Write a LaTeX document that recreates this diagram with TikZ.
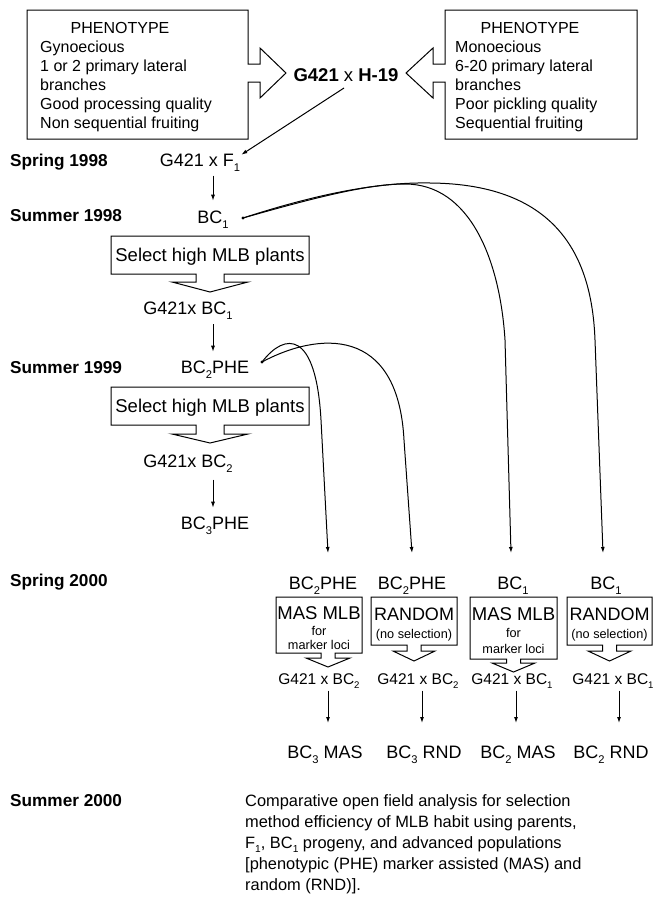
\documentclass[tikz,border=0pt]{standalone}
\usepackage{fontspec}
\setmainfont{Liberation Sans}
\usepackage{graphicx}
\usetikzlibrary{arrows.meta}
\newcommand{\sbs}[1]{\raisebox{-0.28em}{\scalebox{0.62}{#1}}}
\newcommand{\fsz}[1]{\fontsize{#1}{#1}\selectfont}
\begin{document}
\begin{tikzpicture}[x=1pt,y=-1pt,
  txt/.style={inner sep=0pt, anchor=base},
  lbl/.style={inner sep=0pt, anchor=base west, font=\fsz{17.2}\bfseries},
  ptxt/.style={inner sep=0pt, anchor=base west, font=\fsz{16}},
  para/.style={inner sep=0pt, anchor=base west, font=\fsz{16.4}},
  main/.style={inner sep=0pt, anchor=base, font=\fsz{18}},
  big/.style={inner sep=0pt, anchor=base, font=\fsz{18.5}},
  small/.style={inner sep=0pt, anchor=base, font=\fsz{12.7}},
  gx/.style={inner sep=0pt, anchor=base, font=\fsz{15.5}},
  outl/.style={draw=black, line width=1pt, line join=miter},
  arr/.style={line width=1pt, -{Latex[length=6pt,width=4pt]}},
  dotst/.style={fill=black}
]
\useasboundingbox (0,0) rectangle (656,897);

% ---------- phenotype boxes ----------
\draw[outl] (27,10) -- (248,10) -- (248,64) -- (260,64) -- (260,48) -- (286,73)
  -- (260,98) -- (260,82) -- (248,82) -- (248,139) -- (27,139) -- cycle;
\node[ptxt,anchor=base] (phL) at (120,33.8) {PHENOTYPE};
\node[ptxt] (pl1) at (40,52.8) {Gynoecious};
\node[ptxt] (pl2) at (40,71.8) {1 or 2 primary lateral};
\node[ptxt] (pl3) at (40,90.8) {branches};
\node[ptxt] (pl4) at (40,109.8) {Good processing quality};
\node[ptxt] (pl5) at (40,128.8) {Non sequential fruiting};

\draw[outl] (637,10) -- (445,10) -- (445,64) -- (433,64) -- (433,48) -- (406,73)
  -- (433,98) -- (433,82) -- (445,82) -- (445,139) -- (637,139) -- cycle;
\node[ptxt,anchor=base] (phR) at (530,33.8) {PHENOTYPE};
\node[ptxt] (pr1) at (455,52.8) {Monoecious};
\node[ptxt] (pr2) at (455,71.8) {6-20 primary lateral};
\node[ptxt] (pr3) at (455,90.8) {branches};
\node[ptxt] (pr4) at (455,109.8) {Poor pickling quality};
\node[ptxt] (pr5) at (455,128.8) {Sequential fruiting};

\node[txt, font=\fsz{18.5}] (cross) at (346,81.7) {\textbf{G421} x \textbf{H-19}};
\coordinate (xh) at (344,88);

% ---------- season labels ----------
\node[lbl] (s98) at (10,166.5) {Spring 1998};
\node[lbl] (su98) at (10,221.5) {Summer 1998};
\node[lbl] (su99) at (10,373.5) {Summer 1999};
\node[lbl] (sp00) at (10,586) {Spring 2000};
\node[lbl] (su00) at (10,806) {Summer 2000};

% ---------- central column ----------
\node[main] (gf1) at (200,166.5) {G421 x F\sbs{1}};
\node[main] (bcone) at (213,223.5) {BC\sbs{1}};
\draw[arr] (xh) -- ([shift={(1,1)}]gf1.north east);
\draw[arr, shorten <=4pt, shorten >=10pt] (gf1.south -| bcone) -- (bcone.north);

\draw[outl] (111,236) -- (309,236) -- (309,274) -- (224,274) -- (224,282) -- (248,282)
  -- (210,292) -- (172,282) -- (196,282) -- (196,274) -- (111,274) -- cycle;
\node[big] (sel1) at (210,261.5) {Select high MLB plants};
\node[main] (gbc1) at (188,314) {G421x BC\sbs{1}};

\node[main] (bctwophe) at (215,373.5) {BC\sbs{2}PHE};
\draw[arr, shorten <=5pt, shorten >=9pt] (gbc1.south -| bcone) -- (bctwophe.north -| bcone);

\draw[outl] (111,387) -- (309,387) -- (309,425) -- (224,425) -- (224,434) -- (248,434)
  -- (210,443) -- (172,434) -- (196,434) -- (196,425) -- (111,425) -- cycle;
\node[big] (sel2) at (210,412.5) {Select high MLB plants};
\node[main] (gbc2) at (188,467.5) {G421x BC\sbs{2}};
\node[main] (bcthree) at (215,529.5) {BC\sbs{3}PHE};
\draw[arr, shorten <=7pt, shorten >=9pt] (gbc2.south -| bcone) -- (bcthree.north -| bcone);

% ---------- curves ----------
\coordinate (d1) at (243,218);
\coordinate (d2) at (262,362);
\coordinate (t1) at (328,553);
\coordinate (t2) at (412,553);
\coordinate (t3) at (511,553);
\coordinate (t4) at (603,553);
\fill[dotst] (d1) circle (1.6pt);
\fill[dotst] (d2) circle (1.6pt);
\draw[arr] (d1) .. controls (320,196) and (370,184) .. (405,184)
  .. controls (470,184) and (500,260) .. (505,340) -- (t3);
\draw[arr] (d1) .. controls (320,193) and (380,182) .. (430,183)
  .. controls (560,184) and (592,260) .. (595,340) -- (t4);
\draw[arr] (d2) .. controls (285,332) and (316,330) .. (321,420) -- (t1);
\draw[arr] (d2) .. controls (318,332) and (398,325) .. (404,440) -- (t2);

% ---------- Spring 2000 row ----------
\node[main] (r1) at (323,589.5) {BC\sbs{2}PHE};
\node[main] (r2) at (412,589.5) {BC\sbs{2}PHE};
\node[main] (r3) at (513,589.5) {BC\sbs{1}};
\node[main] (r4) at (606,589.5) {BC\sbs{1}};

% box 1
\draw[outl] (276,597) -- (362,597) -- (362,653) -- (335,653) -- (335,658) -- (350,658)
  -- (328,667) -- (306,658) -- (321,658) -- (321,653) -- (276,653) -- cycle;
\node[big] (m1a) at (319,619.7) {MAS MLB};
\node[small] (m1b) at (319,635) {for};
\node[small] (m1c) at (319,649.3) {marker loci};
% box 2
\draw[outl] (371,597) -- (457,597) -- (457,645) -- (421,645) -- (421,651) -- (435,651)
  -- (414,661) -- (393,651) -- (407,651) -- (407,645) -- (371,645) -- cycle;
\node[main] (m2a) at (414,620.5) {RANDOM};
\node[small] (m2b) at (414,638.7) {(no selection)};
% box 3
\draw[outl] (470,597) -- (557,597) -- (557,659) -- (520.5,659) -- (520.5,663) -- (535,663)
  -- (513.5,672) -- (492,663) -- (506.5,663) -- (506.5,659) -- (470,659) -- cycle;
\node[big] (m3a) at (513.5,620.7) {MAS MLB};
\node[small] (m3b) at (513.5,637.7) {for};
\node[small] (m3c) at (513.5,653.3) {marker loci};
% box 4
\draw[outl] (567,597) -- (652,597) -- (652,645) -- (616.5,645) -- (616.5,651) -- (631,651)
  -- (609.5,661) -- (588,651) -- (602.5,651) -- (602.5,645) -- (567,645) -- cycle;
\node[main] (m4a) at (609.5,620.5) {RANDOM};
\node[small] (m4b) at (609.5,638.7) {(no selection)};

% G421 x BC row
\node[gx] (g1) at (319,684) {G421 x BC\sbs{2}};
\node[gx] (g2) at (418,684) {G421 x BC\sbs{2}};
\node[gx] (g3) at (512,684) {G421 x BC\sbs{1}};
\node[gx] (g4) at (613,684) {G421 x BC\sbs{1}};

\coordinate (a1) at (328,723);
\coordinate (a2) at (422,723);
\coordinate (a3) at (516,723);
\coordinate (a4) at (619,723);
\draw[arr, shorten <=2pt] (g1.south -| a1) -- (a1);
\draw[arr, shorten <=2pt] (g2.south -| a2) -- (a2);
\draw[arr, shorten <=2pt] (g3.south -| a3) -- (a3);
\draw[arr, shorten <=2pt] (g4.south -| a4) -- (a4);

\node[main] (b1) at (325,758.5) {BC\sbs{3} MAS};
\node[main] (b2) at (424,758.5) {BC\sbs{3} RND};
\node[main] (b3) at (518,758.5) {BC\sbs{2} MAS};
\node[main] (b4) at (611,758.5) {BC\sbs{2} RND};

% ---------- paragraph ----------
\node[para] (p1) at (245,806) {Comparative open field analysis for selection};
\node[para] (p2) at (245,827) {method efficiency of MLB habit using parents,};
\node[para] (p3) at (245,848) {F\sbs{1}, BC\sbs{1} progeny, and advanced populations};
\node[para] (p4) at (245,869) {[phenotypic (PHE) marker assisted (MAS) and};
\node[para] (p5) at (245,890) {random (RND)].};
\end{tikzpicture}
\end{document}
